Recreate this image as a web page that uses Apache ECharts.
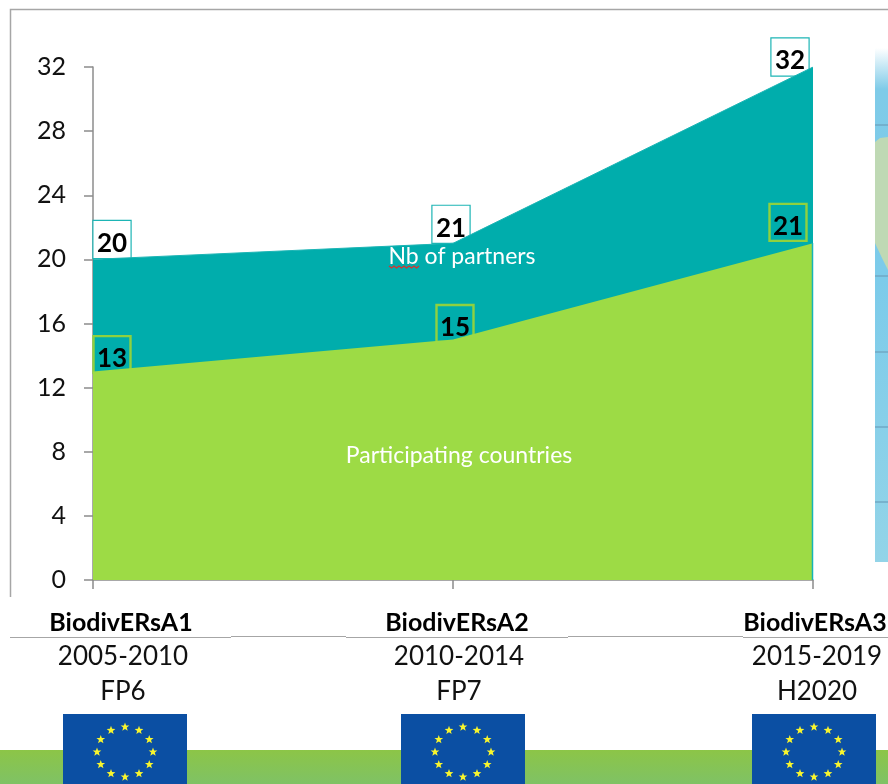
<!DOCTYPE html>
<html>
<head>
<meta charset="utf-8">
<style>
html, body { margin: 0; padding: 0; background: #fff; }
#chart { width: 888px; height: 784px; }
</style>
<script src="https://cdn.jsdelivr.net/npm/echarts@6/dist/echarts.min.js"></script>
</head>
<body>
<div id="chart"></div>
<script>
const categories = ['BiodivERsA1', 'BiodivERsA2', 'BiodivERsA3'];
const periods = ['2005-2010', '2010-2014', '2015-2019'];
const programmes = ['FP6', 'FP7', 'H2020'];
const partners = [20, 21, 32];
const countries = [13, 15, 21];

const FONT = 'Lato, "Noto Sans", sans-serif';
const TEAL = '#00adac';
const GREEN = '#9ddb45';
const chart = echarts.init(document.getElementById('chart'));

// value boxes sit a little off the points, like in the slide
const partnerOffsets = [[19, -20], [-2, -19], [-23, -10]];
const countryOffsets = [[19, -17], [2, -16], [-25, -21]];

// numbers go on top of the areas
function numberData(values, offsets) {
    return values.map((v, i) => ({
        value: v,
        label: {
            show: true, position: 'inside', offset: [offsets[i][0], offsets[i][1] + 4],
            color: '#000', fontFamily: FONT, fontWeight: 'bold', fontSize: 26
        }
    }));
}
// empty boxes go under the areas so the corners get cut off
function boxData(values, offsets, color, bg) {
    return values.map((v, i) => ({
        value: v,
        label: {
            show: true, position: 'inside', offset: offsets[i], formatter: ' ',
            width: 37, height: 37, backgroundColor: bg, borderColor: color, borderWidth: 1.2
        }
    }));
}

// EU flag drawn from its 12 stars
function flag(x, y) {
    const out = [{ type: 'rect', shape: { x: x, y: y, width: 124, height: 70 }, style: { fill: '#0b4fa3' } }];
    const cx = x + 62, cy = y + 38;
    for (let i = 0; i < 12; i++) {
        const a = i * Math.PI / 6;
        const sx = cx + 28 * Math.sin(a), sy = cy - 25 * Math.cos(a);
        const pts = [];
        for (let k = 0; k < 10; k++) {
            const r = k % 2 ? 1.9 : 4.6, b = k * Math.PI / 5;
            pts.push([sx + r * Math.sin(b), sy - r * Math.cos(b)]);
        }
        out.push({ type: 'polygon', shape: { points: pts }, style: { fill: '#f8f52e' } });
    }
    return out;
}

function squiggle(x0, x1, y) {
    const pts = [];
    for (let x = x0, i = 0; x <= x1; x += 2.5, i++) pts.push([x, y + (i % 2 ? 2 : 0)]);
    return { type: 'polyline', shape: { points: pts }, style: { stroke: '#d9322e', fill: null, lineWidth: 1.2 }, z: 20 };
}

const labelCenters = [121, 457, 815];
const decor = [
    // slide background pieces
    { type: 'rect', shape: { x: 0, y: 750, width: 888, height: 34 }, z: -5,
      style: { fill: new echarts.graphic.LinearGradient(0, 0, 0, 1, [{ offset: 0, color: '#8cc547' }, { offset: 1, color: '#7fc265' }]) } },
    // strip of the map on the right
    { type: 'rect', shape: { x: 875, y: 48, width: 13, height: 514 }, z: -5,
      style: { fill: new echarts.graphic.LinearGradient(0, 0, 0, 1, [{ offset: 0, color: '#ffffff' }, { offset: 0.08, color: '#7fcbe8' }, { offset: 0.45, color: '#7ccbea' }, { offset: 1, color: '#93d4e8' }]) } },
    { type: 'polygon', shape: { points: [[875, 142], [880, 138], [888, 137], [888, 270], [882, 258], [875, 243]] }, z: -4, style: { fill: '#bfd9b4' } }
];
[125, 276, 352, 427, 502].forEach(y => {
    decor.push({ type: 'line', shape: { x1: 875, y1: y, x2: 888, y2: y }, z: -4, style: { stroke: '#6fa9c4', lineWidth: 1.5 } });
});
decor.push(
    // chart frame
    { type: 'polyline', shape: { points: [[888, 9.5], [10.5, 9.5], [10.5, 597]] }, style: { stroke: '#a6a6a6', fill: null, lineWidth: 1.5 }, z: -3 },
    { type: 'line', shape: { x1: 10, y1: 637.5, x2: 231, y2: 637.5 }, style: { stroke: '#a6a6a6', lineWidth: 1 }, z: -3 },
    { type: 'line', shape: { x1: 231, y1: 636.5, x2: 346, y2: 636.5 }, style: { stroke: '#a6a6a6', lineWidth: 1 }, z: -3 },
    { type: 'line', shape: { x1: 346, y1: 637.5, x2: 568, y2: 637.5 }, style: { stroke: '#a6a6a6', lineWidth: 1 }, z: -3 },
    { type: 'line', shape: { x1: 568, y1: 636.5, x2: 743, y2: 636.5 }, style: { stroke: '#a6a6a6', lineWidth: 1 }, z: -3 },
    { type: 'line', shape: { x1: 743, y1: 637.5, x2: 888, y2: 637.5 }, style: { stroke: '#a6a6a6', lineWidth: 1 }, z: -3 },
    // teal edge that shows next to the green area
    { type: 'line', shape: { x1: 812.5, y1: 243, x2: 812.5, y2: 580 }, style: { stroke: '#14b4b6', lineWidth: 1.5 }, z: 6 }
);
categories.forEach((c, i) => {
    const x = labelCenters[i];
    decor.push({ type: 'text', x: x, y: 623, z: 5, style: { text: c, align: 'center', verticalAlign: 'middle', font: 'bold 25px ' + FONT, fill: '#000' } });
    decor.push({ type: 'text', x: x + 2, y: 657, z: 5, style: { text: periods[i], align: 'center', verticalAlign: 'middle', font: '26px ' + FONT, fill: '#111' } });
    decor.push({ type: 'text', x: x + 2, y: 692, z: 5, style: { text: programmes[i], align: 'center', verticalAlign: 'middle', font: '26px ' + FONT, fill: '#111' } });
});
decor.push(...flag(63, 714), ...flag(401, 714), ...flag(752, 714));
decor.push(
    { type: 'text', x: 462, y: 257, z: 20, style: { text: 'Nb of partners', align: 'center', verticalAlign: 'middle', font: '23px ' + FONT, fill: '#fff' } },
    squiggle(389, 419, 266),
    { type: 'text', x: 459, y: 456, z: 20, style: { text: 'Participating countries', align: 'center', verticalAlign: 'middle', font: '23px ' + FONT, fill: '#fff' } }
);

const noLine = { type: 'line', symbol: 'circle', symbolSize: 0, showSymbol: true, showAllSymbol: true };

chart.setOption({
    animation: false,
    grid: { left: 93, right: 75, top: 67, bottom: 204 },
    xAxis: {
        type: 'category',
        data: categories,
        boundaryGap: false,
        axisLine: { lineStyle: { color: '#8c8c8c', width: 1.5 } },
        axisTick: { alignWithLabel: true, length: 9, lineStyle: { color: '#8c8c8c', width: 1.5 } },
        axisLabel: { show: false }
    },
    yAxis: {
        type: 'value',
        min: 0,
        max: 32,
        interval: 4,
        splitLine: { show: false },
        axisLine: { show: true, lineStyle: { color: '#8c8c8c', width: 1.5 } },
        axisTick: { show: true, length: 9, lineStyle: { color: '#8c8c8c', width: 1.5 } },
        axisLabel: { color: '#111', fontFamily: FONT, fontSize: 25, margin: 27, padding: [8, 0, 0, 0] }
    },
    series: [
        Object.assign({}, noLine, {
            name: 'partner boxes',
            data: boxData(partners, partnerOffsets, '#1db5b5', '#fff'),
            lineStyle: { width: 0 },
            z: 1
        }),
        Object.assign({}, noLine, {
            name: 'Nb of partners',
            data: numberData(partners, partnerOffsets),
            lineStyle: { color: '#1db5b5', width: 1 },
            areaStyle: { color: TEAL, opacity: 1 },
            z: 2
        }),
        Object.assign({}, noLine, {
            name: 'country boxes',
            data: boxData(countries, countryOffsets, '#8fd13f', 'transparent'),
            lineStyle: { width: 0 },
            z: 2
        }),
        Object.assign({}, noLine, {
            name: 'Participating countries',
            data: numberData(countries, countryOffsets),
            lineStyle: { width: 0 },
            areaStyle: { color: GREEN, opacity: 1 },
            z: 3
        })
    ],
    graphic: { elements: decor }
});
</script>
</body>
</html>
